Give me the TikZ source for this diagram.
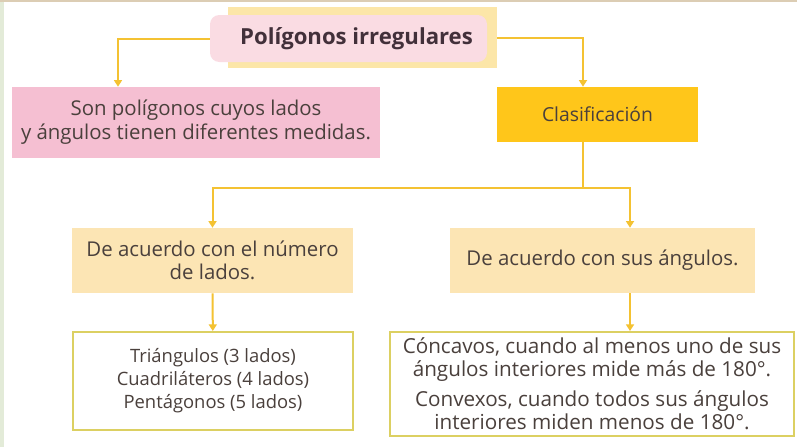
\documentclass[tikz,border=0pt]{standalone}
\usepackage{fontspec}
\setmainfont{Open Sans}
\usetikzlibrary{arrows.meta,shapes.misc}

\definecolor{rosafuerte}{HTML}{F5BFD2}
\definecolor{rosaclaro}{HTML}{FADCE3}
\definecolor{amarillomarco}{HTML}{FCE6A8}
\definecolor{dorado}{HTML}{FFC61A}
\definecolor{crema}{HTML}{FCE5B4}
\definecolor{oliva}{HTML}{DCD062}
\definecolor{linea}{HTML}{F4C232}
\definecolor{texto}{HTML}{4A403C}
\definecolor{titulo}{HTML}{42303A}
\definecolor{verdeborde}{HTML}{E3EBD8}
\definecolor{beige}{HTML}{DCCDB4}

\begin{document}
\begin{tikzpicture}[x=0.75pt,y=-0.75pt,
    every node/.style={text=texto,font=\fontsize{15.3}{18}\selectfont,align=center,inner sep=0pt},
    flecha/.style={draw=linea,line width=1.5pt,-{Triangle[width=6pt,length=5pt]}},
    tramo/.style={draw=linea,line width=1.5pt}]
\useasboundingbox (0,0) rectangle (797,447);
\fill[white] (0,0) rectangle (797,447);
\fill[verdeborde] (0,0) rectangle (4,447);
\fill[beige] (0,0) rectangle (797,2);
\begin{scope}[every node/.style={rectangle,fill=amarillomarco}]
    \node (marco) at (362.5,37.5) [minimum width=201.75pt,minimum height=45.75pt] {};
\end{scope}
\node (rosa) at (348.5,38.5) [rectangle,rounded corners=7pt,fill=rosaclaro,
    minimum width=207.75pt,minimum height=35.25pt,
    text=titulo,font=\bfseries\fontsize{16.6}{18}\selectfont] {\hspace{12pt}Polígonos irregulares};
\node (defn) at (196,122.5) [fill=rosafuerte,minimum width=276pt,minimum height=53.25pt]
    {Son polígonos cuyos lados\\ y ángulos tienen diferentes medidas.};
\node (clasif) at (597.5,114.5) [fill=dorado,minimum width=150.75pt,minimum height=41.25pt,
    font=\fontsize{14.5}{16}\selectfont] {Clasificación};
\begin{scope}[every node/.style={fill=crema,minimum height=48.75pt,text=texto,
    font=\fontsize{15.3}{17.5}\selectfont,align=center,inner sep=0pt}]
    \node (numlados) at (212.5,260.5) [minimum width=210.75pt] {De acuerdo con el número\\ de lados.};
    \node (angulos) at (602.5,260.5) [minimum width=228.75pt] {De acuerdo con sus ángulos.};
\end{scope}
\begin{scope}[every node/.style={draw=oliva,line width=1.5pt,fill=white,text=texto,
    align=center,inner sep=0pt}]
    \node (lista) at (213,381) [minimum width=210pt,minimum height=73.5pt,
        font=\fontsize{13.8}{17.2}\selectfont]
        {Triángulos (3 lados)\\ Cuadriláteros (4 lados)\\ Pentágonos (5 lados)};
    \node (tipos) at (592,384) [minimum width=303pt,minimum height=78pt,
        font=\fontsize{15.5}{17.3}\selectfont]
        {Cóncavos, cuando al menos uno de sus\\ ángulos interiores mide más de 180°.\\[5pt]
         Convexos, cuando todos sus ángulos\\ interiores miden menos de 180°.};
\end{scope}
\coordinate (xa) at (118,0);
\coordinate (xb) at (583,0);
\coordinate (xc) at (630,0);
\coordinate (rama) at (583,188);
\draw[flecha] (rosa.west) -| (defn.north -| xa);
\draw[flecha] (marco.east) -| (clasif.north -| xb);
\draw[tramo] (clasif.south -| xb) -- (rama);
\draw[flecha] (rama) -| (numlados.north);
\draw[flecha] (rama) -| (angulos.north -| xc);
\draw[flecha] (numlados) -- (lista);
\draw[flecha] (angulos.south -| xc) -- (tipos.north -| xc);
\end{tikzpicture}
\end{document}
